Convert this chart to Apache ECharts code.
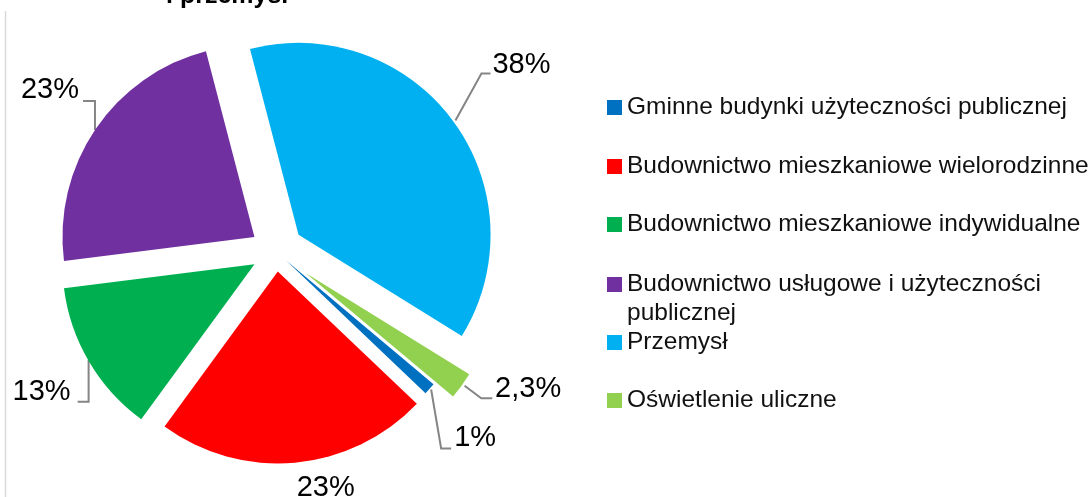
<!DOCTYPE html>
<html><head><meta charset="utf-8">
<script src="https://cdn.jsdelivr.net/npm/echarts@6/dist/echarts.min.js"></script>
<style>html,body{margin:0;padding:0;background:#fff}#c{width:1092px;height:497px}</style>
</head><body><div id="c"></div>
<script>
const categories = ['Gminne budynki użyteczności publicznej','Budownictwo mieszkaniowe wielorodzinne','Budownictwo mieszkaniowe indywidualne','Budownictwo usługowe i użyteczności publicznej','Przemysł','Oświetlenie uliczne'];
const values = [1, 23, 13, 23, 38, 2.3];
const valueLabels = ['1%','23%','13%','23%','38%','2,3%'];
const colors = ['#0070C0','#FF0000','#00B050','#7030A0','#00B0F0','#92D050'];
const legendNames = ['Gminne budynki użyteczności publicznej','Budownictwo mieszkaniowe wielorodzinne','Budownictwo mieszkaniowe indywidualne','\nBudownictwo usługowe i użyteczności\npublicznej','Przemysł','Oświetlenie uliczne'];

// styling: how far each slice is pulled out of the pie (px)
const explode = [14, 20, 25, 26, 28, 37];
// leader-line / label offsets relative to the library's label anchor (styling only)
const labelGeom = [
  {s:[12,10], c:[22,69], e:[32,69], t:[35,59], align:'left'},
  {t:[32.5,45], align:'center', noLine:true},
  {s:[-22,11], c:[-22,52.7], e:[-33,52.7], t:[-40,42.7], align:'right'},
  {s:[-22,-14], c:[-22,-43], e:[-34,-43], t:[-38,-54.3], align:'right'},
  {s:[25,-17], c:[51,-64], e:[60,-64], t:[62,-72.5], align:'left'},
  {s:[33,21.7], c:[49.7,34.3], e:[60.7,34.3], t:[63.5,25], align:'left'}
];
const chart = echarts.init(document.getElementById('c'));
const FONT = "'Liberation Sans', Arial, sans-serif";
const iconTops = [100, 159, 217, 277, 335, 393];
const legends = categories.map((name, i) => {
  const multi = legendNames[i].indexOf('\n') >= 0;
  return {
    data: [{name: name, itemStyle: {color: colors[i]}}], orient: 'vertical', left: 607,
    top: multi ? iconTops[i] - 36 : iconTops[i] - 7,
    padding: 0, itemWidth: 15, itemHeight: 15, itemGap: 0,
    icon: 'rect', selectedMode: false,
    formatter: () => legendNames[i],
    textStyle: {fontFamily: FONT, fontSize: 24.5, color: '#111', lineHeight: 29}
  };
});
const center = [276, 251.5];
const radius = 192;
const startAngle = -40;
const TRANSPARENT = 'rgba(0,0,0,0)';

// one pie per slice so each slice can have its own pull-out distance
const sliceSeries = categories.map((_, i) => ({
  type: 'pie',
  center: center,
  radius: radius,
  startAngle: startAngle,
  clockwise: true,
  silent: true,
  selectedMode: 'multiple',
  selectedOffset: explode[i],
  emphasis: {disabled: true},
  itemStyle: {borderWidth: 0},
  label: {show: false},
  labelLine: {show: false},
  data: categories.map((name, j) => ({
    name: name, value: values[j], selected: j === i,
    itemStyle: j === i ? {color: colors[j], borderWidth: 0} : {color: TRANSPARENT, borderWidth: 0}
  }))
}));

const labelSeries = {
  type: 'pie',
  center: center,
  radius: radius,
  startAngle: startAngle,
  clockwise: true,
  silent: true,
  legendHoverLink: false,
  emphasis: {disabled: true},
  itemStyle: {color: TRANSPARENT, borderWidth: 0},
  label: {show: true, position: 'outside', fontFamily: FONT, fontSize: 29, color: '#000',
    formatter: p => valueLabels[p.dataIndex]},
  labelLine: {show: true, length: 10, length2: 10, smooth: false, lineStyle: {color: '#858585', width: 2}},
  labelLayout: function (params) {
    const g = labelGeom[params.dataIndex];
    const p0 = params.labelLinePoints[0];
    const out = {x: p0[0] + g.t[0], y: p0[1] + g.t[1], align: g.align, verticalAlign: 'middle'};
    if (!g.noLine) {
      out.labelLinePoints = [[p0[0]+g.s[0], p0[1]+g.s[1]], [p0[0]+g.c[0], p0[1]+g.c[1]], [p0[0]+g.e[0], p0[1]+g.e[1]]];
    }
    return out;
  },
  data: categories.map((name, i) => ({name: name, value: values[i],
    labelLine: labelGeom[i].noLine ? {show: false} : undefined}))
};

chart.setOption({
  animation: false,
  color: colors,
  title: {text: 'i przemysł', left: 166, top: -16, padding: 0,
    textStyle: {fontFamily: FONT, fontSize: 25, fontWeight: 'bold', color: '#000'}},
  legend: legends,
  graphic: [{type: 'line', shape: {x1: 5.5, y1: 11, x2: 5.5, y2: 497}, style: {stroke: '#d9d9d9', lineWidth: 1.5}}],
  series: sliceSeries.concat([labelSeries])
});
</script></body></html>
